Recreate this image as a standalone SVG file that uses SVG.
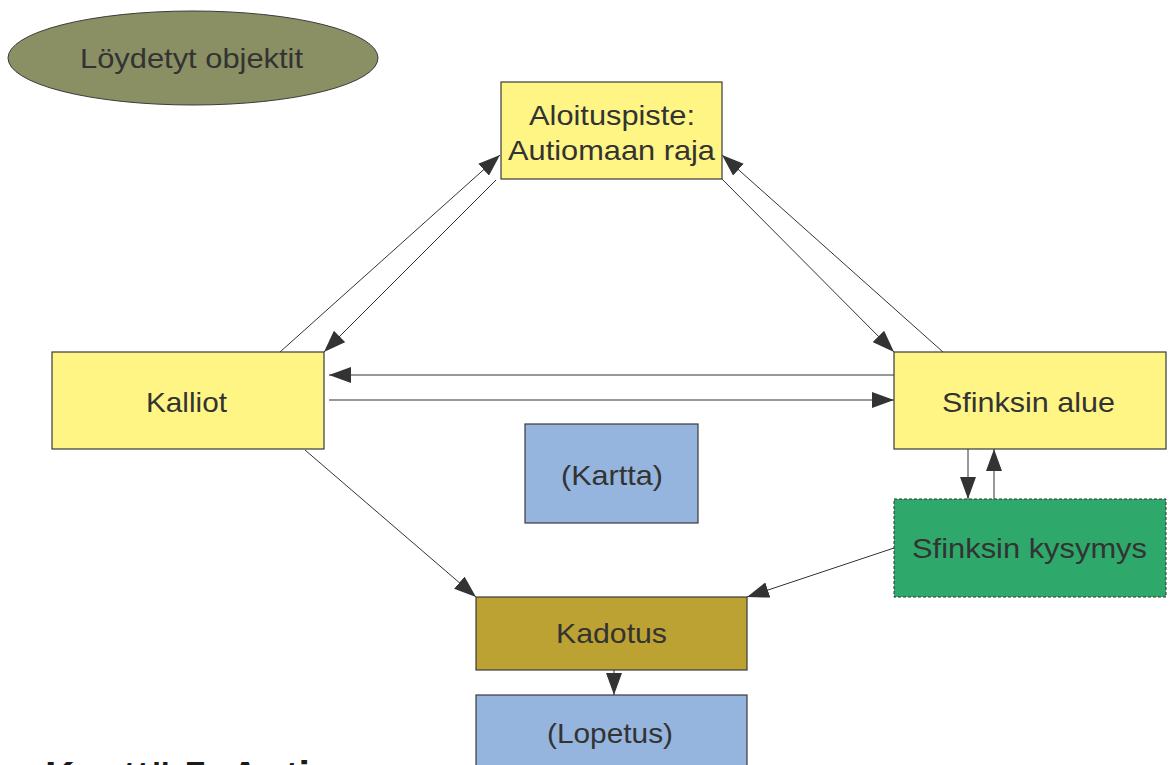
<svg xmlns="http://www.w3.org/2000/svg" width="1171" height="765" viewBox="0 0 1171 765">
<style>
  .box { stroke: #3a3a3a; stroke-width: 1.2; }
  .lbl { font-family: "Liberation Sans", Arial, sans-serif; font-size: 28px; fill: #333333; text-anchor: middle; }
  .conn { stroke: #333333; stroke-width: 1; fill: none; marker-end: url(#ah); }
  .yellow { fill: #fff584; }
</style>
<defs>
  <marker id="ah" markerUnits="userSpaceOnUse" markerWidth="22" markerHeight="16" refX="22" refY="8" orient="auto">
    <path d="M0,0 L22,8 L0,16 z" fill="#333333"/>
  </marker>
</defs>
<rect width="1171" height="765" fill="#ffffff"/>

<g id="connectors">
  <line class="conn" x1="280" y1="352" x2="500" y2="155"/>
  <line class="conn" x1="496" y1="180" x2="324" y2="352"/>
  <line class="conn" x1="722" y1="179" x2="894" y2="352"/>
  <line class="conn" x1="943" y1="352" x2="722" y2="155"/>
  <line class="conn" x1="894" y1="375" x2="329" y2="375"/>
  <line class="conn" x1="329" y1="400" x2="894" y2="400"/>
  <line class="conn" x1="305" y1="450" x2="476" y2="597"/>
  <line class="conn" x1="894" y1="548" x2="747" y2="597"/>
  <line class="conn" x1="968" y1="449" x2="968" y2="499"/>
  <line class="conn" x1="994" y1="499" x2="994" y2="449"/>
  <line class="conn" x1="614" y1="670" x2="614" y2="695"/>
</g>

<g id="loydetyt">
  <ellipse cx="193" cy="58" rx="185" ry="47" fill="#8a9063" stroke="#3a3a3a" stroke-width="1"/>
  <text class="lbl" x="191.5" y="68" textLength="223" lengthAdjust="spacingAndGlyphs">Löydetyt objektit</text>
</g>

<g id="aloituspiste">
  <rect class="box yellow" x="501" y="82" width="221" height="97"/>
  <text class="lbl" x="612" y="125" textLength="166" lengthAdjust="spacingAndGlyphs">Aloituspiste:</text>
  <text class="lbl" x="611.5" y="160" textLength="207" lengthAdjust="spacingAndGlyphs">Autiomaan raja</text>
</g>

<g id="kalliot">
  <rect class="box yellow" x="52" y="352" width="272" height="97"/>
  <text class="lbl" x="186.5" y="412" textLength="81" lengthAdjust="spacingAndGlyphs">Kalliot</text>
</g>

<g id="sfinksin-alue">
  <rect class="box yellow" x="894" y="352" width="272" height="97"/>
  <text class="lbl" x="1028.5" y="412" textLength="173" lengthAdjust="spacingAndGlyphs">Sfinksin alue</text>
</g>

<g id="sfinksin-kysymys">
  <rect x="894" y="499" width="272" height="98" fill="#2ea96b" stroke="#333333" stroke-width="1" stroke-dasharray="3,2"/>
  <text class="lbl" x="1029.5" y="558" textLength="235" lengthAdjust="spacingAndGlyphs">Sfinksin kysymys</text>
</g>

<g id="kartta">
  <rect class="box" x="525" y="424" width="173" height="99" fill="#95b5de"/>
  <text class="lbl" x="612" y="485" textLength="102" lengthAdjust="spacingAndGlyphs">(Kartta)</text>
</g>

<g id="kadotus">
  <rect class="box" x="476" y="597" width="271" height="73" fill="#bca232"/>
  <text class="lbl" x="611.5" y="643" textLength="111" lengthAdjust="spacingAndGlyphs">Kadotus</text>
</g>

<g id="lopetus">
  <rect class="box" x="476" y="695" width="271" height="90" fill="#95b5de"/>
  <text class="lbl" x="610" y="743" textLength="126" lengthAdjust="spacingAndGlyphs">(Lopetus)</text>
</g>

<g id="otsikko">
  <text x="45" y="790" font-family="Liberation Sans, Arial, sans-serif" font-size="41" font-weight="bold" fill="#1a1a1a">Kenttä 5: Autiomaa</text>
</g>
</svg>
